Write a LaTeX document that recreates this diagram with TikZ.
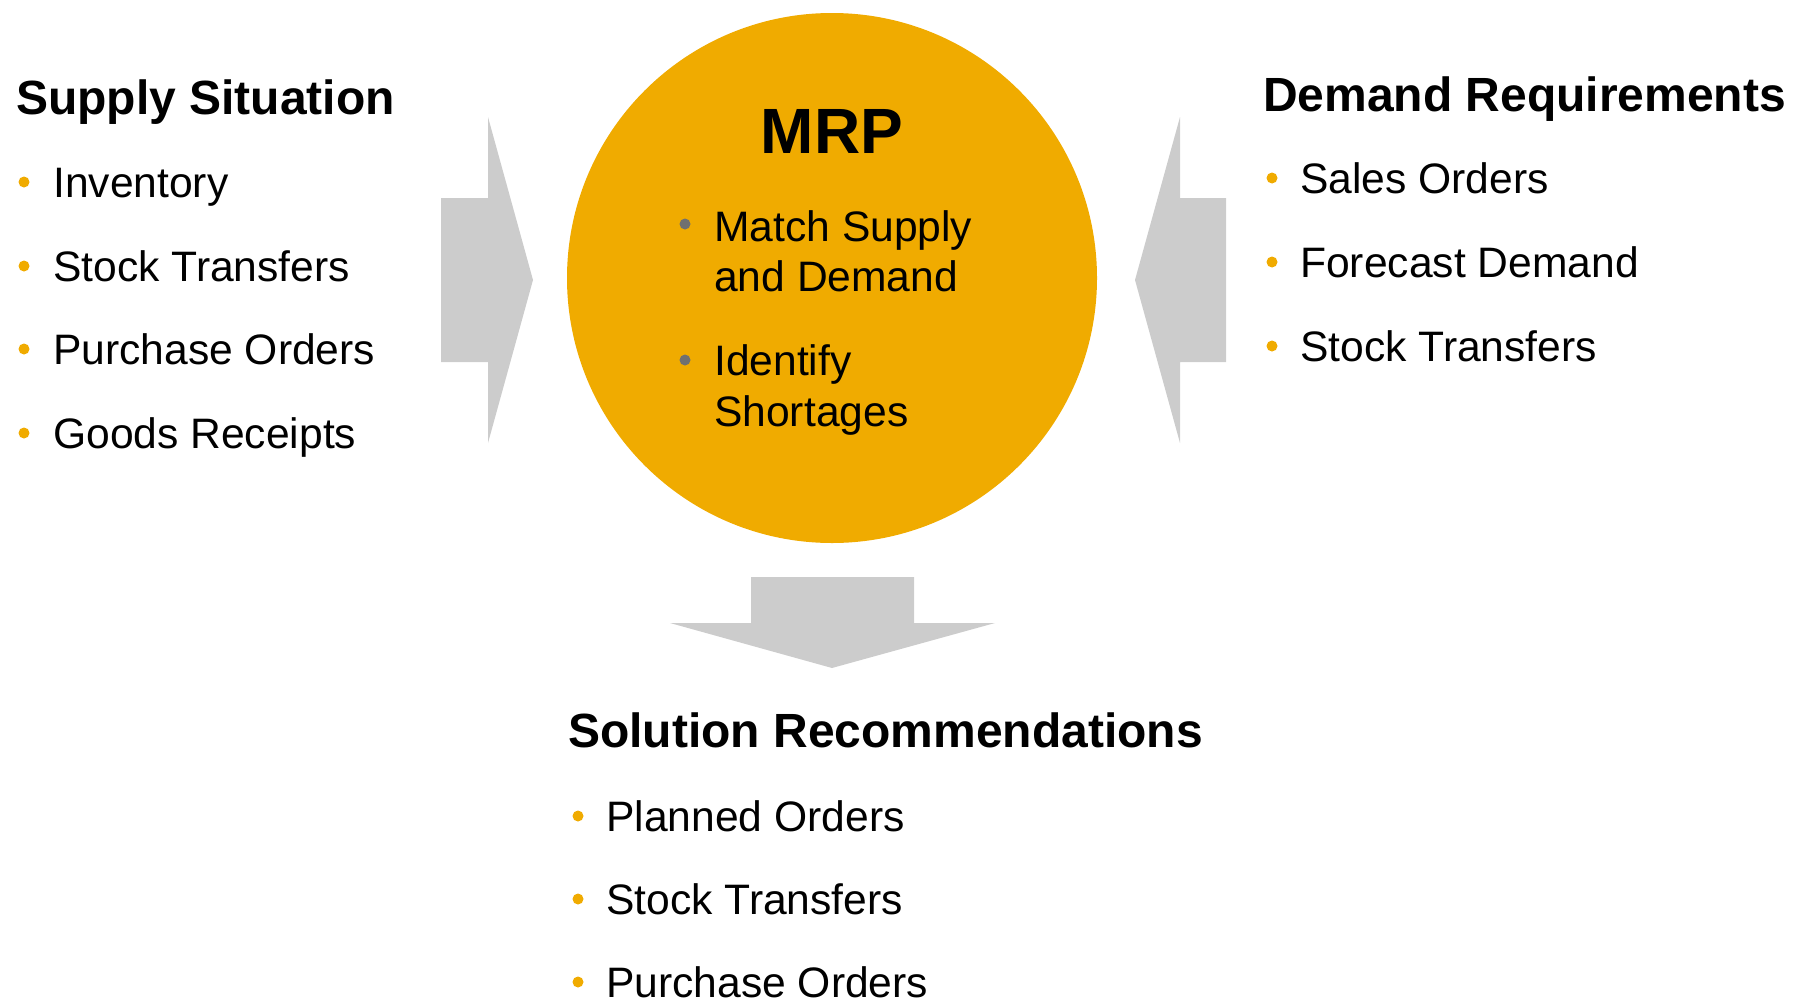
\documentclass[tikz,border=0pt]{standalone}
\usepackage{fontspec}
\setmainfont{Liberation Sans}
\definecolor{gold}{HTML}{F0AB00}
\definecolor{arrowgray}{HTML}{CCCCCC}
\definecolor{dotgray}{HTML}{707070}
\begin{document}
\begin{tikzpicture}[x=1pt,y=-1pt,
  heading/.style={anchor=base west, inner sep=0pt, font=\fontsize{48}{58}\selectfont\bfseries},
  item/.style={anchor=base west, inner sep=0pt, font=\fontsize{42.6}{50}\selectfont},
  bul/.style={circle, fill=gold, inner sep=0pt, minimum size=11pt},
  graybul/.style={circle, fill=dotgray, inner sep=0pt, minimum size=11pt},
  blockarrow/.style={fill=arrowgray, draw=none}]
\useasboundingbox (0,0) rectangle (1805,999);

% central circle
\node[circle, fill=gold, minimum size=530pt, inner sep=0pt] (mrp) at (832,278) {};
\node[anchor=base, inner sep=0pt, font=\fontsize{64}{70}\selectfont\bfseries] (mrpt) at (832,153) {MRP};
\node[graybul] (mb1) at (685,224) {};
\node[item] (m1a) at (714,241) {Match Supply};
\node[item] (m1b) at (714,291) {and Demand};
\node[graybul] (mb2) at (685,360) {};
\node[item] (m2a) at (714,375) {Identify};
\node[item] (m2b) at (714,426) {Shortages};

% left arrow
\path[blockarrow] (441,198) -- (488,198) -- (488,117) -- (533,280) -- (488,443) -- (488,362) -- (441,362) -- cycle;
% right arrow
\path[blockarrow] (1226,198) -- (1180,198) -- (1180,117) -- (1135,280) -- (1180,443) -- (1180,362) -- (1226,362) -- cycle;
% down arrow
\path[blockarrow] (751,577) -- (914,577) -- (914,623) -- (995,623) -- (832,668) -- (670,623) -- (751,623) -- cycle;

% supply
\node[heading] (sh) at (16,114) {Supply Situation};
\node[bul] (sb1) at (24,182) {};
\node[item] (s1) at (53,197) {Inventory};
\node[bul] (sb2) at (24,266) {};
\node[item] (s2) at (53,281) {Stock Transfers};
\node[bul] (sb3) at (24,349) {};
\node[item] (s3) at (53,364) {Purchase Orders};
\node[bul] (sb4) at (24,433) {};
\node[item] (s4) at (53,448) {Goods Receipts};

% demand
\node[heading] (dh) at (1263,111) {Demand Requirements};
\node[bul] (db1) at (1272,178) {};
\node[item] (d1) at (1300,193) {Sales Orders};
\node[bul] (db2) at (1272,262) {};
\node[item] (d2) at (1300,277) {Forecast Demand};
\node[bul] (db3) at (1272,346) {};
\node[item] (d3) at (1300,361) {Stock Transfers};

% solution
\node[heading] (rh) at (568,747) {Solution Recommendations};
\node[bul] (rb1) at (578,816) {};
\node[item] (r1) at (606,831) {Planned Orders};
\node[bul] (rb2) at (578,899) {};
\node[item] (r2) at (606,914) {Stock Transfers};
\node[bul] (rb3) at (578,982) {};
\node[item] (r3) at (606,997) {Purchase Orders};
\end{tikzpicture}
\end{document}
